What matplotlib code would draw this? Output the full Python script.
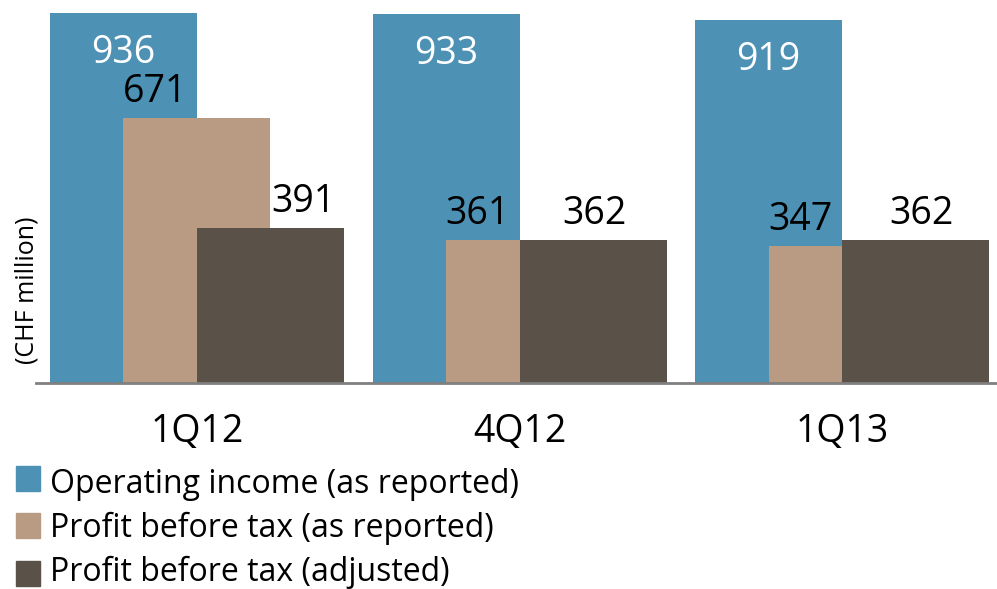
import numpy as np
import matplotlib
matplotlib.use("Agg")
import matplotlib.pyplot as plt
from matplotlib.patches import Rectangle

plt.rcParams['font.family'] = ['Open Sans', 'DejaVu Sans']

# data
quarters = ['1Q12', '4Q12', '1Q13']
operating_income = [936, 933, 919]
pbt_reported = [671, 361, 347]
pbt_adjusted = [391, 362, 362]
series_names = ['Operating income (as reported)',
                'Profit before tax (as reported)',
                'Profit before tax (adjusted)']

colors = ['#4D91B5', '#B89B82', '#5A5148']

W, H = 997, 589
fig = plt.figure(figsize=(W / 100, H / 100), dpi=100)
ax = fig.add_axes([36 / W, (H - 383) / H, 961 / W, 383 / H])

g = np.arange(len(quarters)) * 2.194
ax.bar(g, operating_income, width=1, color=colors[0])
ax.bar(g + 0.5, pbt_reported, width=1, color=colors[1])
ax.bar(g + 1, pbt_adjusted, width=1, color=colors[2])

ax.set_xlim(-0.595, 5.942)
ax.set_ylim(0, 969)
for s in ['top', 'left', 'right']:
    ax.spines[s].set_visible(False)
ax.spines['bottom'].set_color('#808080')
ax.spines['bottom'].set_linewidth(2)
ax.set_xticks([])
ax.set_yticks([])

# value labels
dark_dx = [33, 1, 6]
for i in range(len(quarters)):
    ax.annotate(str(operating_income[i]), xy=(g[i], operating_income[i]),
                xytext=(0, -50), textcoords='offset pixels',
                ha='center', va='baseline', fontsize=27, color='white')
    ax.annotate(str(pbt_reported[i]), xy=(g[i] + 0.5, pbt_reported[i]),
                xytext=(-42, 16), textcoords='offset pixels',
                ha='center', va='baseline', fontsize=27, color='black')
    ax.annotate(str(pbt_adjusted[i]), xy=(g[i] + 1, pbt_adjusted[i]),
                xytext=(dark_dx[i], 16), textcoords='offset pixels',
                ha='center', va='baseline', fontsize=27, color='black')
    ax.annotate(quarters[i], xy=(g[i] + 0.5, 0),
                xytext=(0, -59), textcoords='offset pixels',
                ha='center', va='baseline', fontsize=27, color='black',
                annotation_clip=False)

fig.text(27 / W, 1 - 290 / H, '(CHF million)', rotation=90,
         ha='center', va='center', fontsize=18)

# legend
box_tops = [466, 513, 561]
baselines = [493, 537, 581]
for name, c, top, base in zip(series_names, colors, box_tops, baselines):
    fig.patches.append(Rectangle((16 / W, 1 - (top + 25) / H), 24 / W, 25 / H,
                                 transform=fig.transFigure, color=c))
    fig.text(50 / W, 1 - base / H, name, ha='left', va='baseline', fontsize=23)

fig.savefig('out.png', dpi=100)
